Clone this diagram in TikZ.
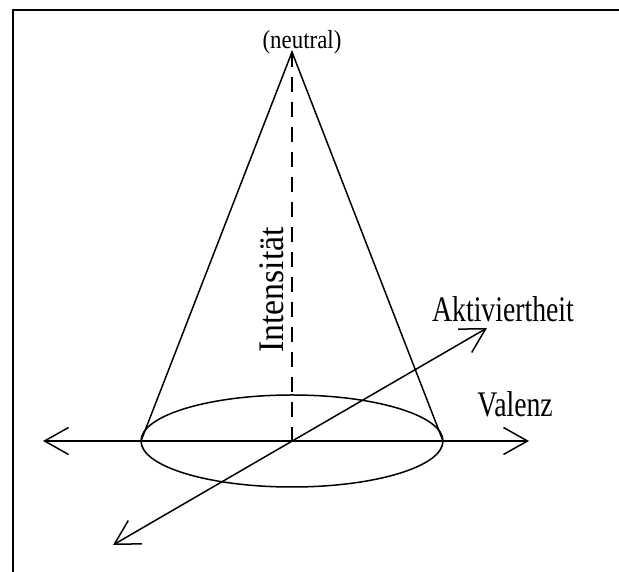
\documentclass[tikz,border=0pt]{standalone}
\usepackage{fontspec}
\setmainfont{Liberation Serif}
\newfontfamily\axisfont[FakeStretch=0.77]{Liberation Serif}
\newfontfamily\upfont[FakeStretch=0.94]{Liberation Serif}
\newfontfamily\topfont[FakeStretch=0.88]{Liberation Serif}
\usetikzlibrary{arrows.meta}

\begin{document}
\begin{tikzpicture}[x=1pt,y=1pt,line width=1.5pt,>={Straight Barb[length=24pt,width=27pt]}]
  \useasboundingbox (0,0) rectangle (619,572);
  % rahmen (rechts und unten abgeschnitten)
  \draw[line width=2pt] (13,-20) rectangle (640,562);
  % kegel
  \coordinate (spitze) at (292,520);
  \coordinate (mitte) at (292,131);
  \coordinate (links) at (141,131);
  \coordinate (rechts) at (443,131);
  \draw (mitte) ellipse (151 and 46);
  \draw (links) -- (spitze) -- (rechts);
  \draw[dash pattern=on 15pt off 10pt] (spitze) -- (mitte);
  % achsen
  \coordinate (vl) at (43,131);
  \coordinate (vr) at (529,131);
  \coordinate (au) at (113,27);
  \coordinate (ao) at (487,244);
  \draw[<->] (vl) -- (vr);
  \draw[<->] (au) -- (ao);
  % beschriftung
  \node[anchor=base,inner sep=0pt,font=\topfont\fontsize{26}{26}\selectfont] (neutral) at (302,523){(neutral)};
  \node[anchor=base,inner sep=0pt,font=\axisfont\fontsize{36}{36}\selectfont] (akt) at (503,250){Aktiviertheit};
  \node[anchor=base,inner sep=0pt,font=\axisfont\fontsize{36}{36}\selectfont] (val) at (515,155){Valenz};
  \node[anchor=base,inner sep=0pt,rotate=90,font=\upfont\fontsize{36}{36}\selectfont] (int) at (283,282){Intensität};
\end{tikzpicture}
\end{document}
